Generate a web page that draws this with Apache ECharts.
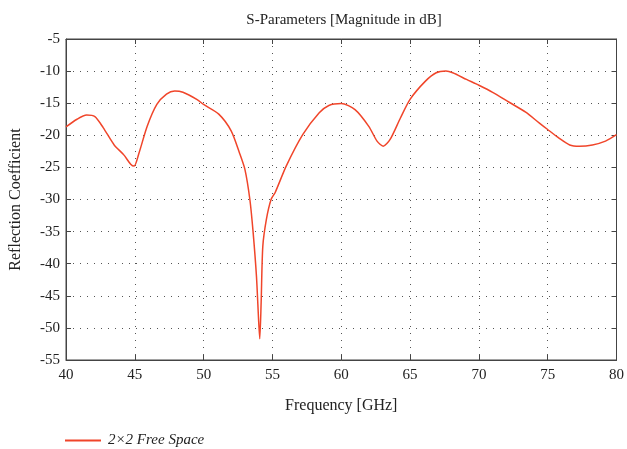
<!DOCTYPE html>
<html>
<head>
<meta charset="utf-8">
<script src="https://cdn.jsdelivr.net/npm/echarts@6/dist/echarts.min.js"></script>
<style>html,body{margin:0;padding:0;background:#fff;}#c{width:627px;height:449px;}</style>
</head>
<body>
<div id="c"></div>
<script>
var freq = [40.0,40.8,41.5,42.1,42.7,43.5,44.2,44.7,44.95,45.3,45.9,46.6,47.3,47.9,48.5,49.5,50.0,51.1,52.0,52.6,53.0,53.36,53.6,53.84,54.0,54.08,54.18,54.3,54.56,54.9,55.2,56.0,57.2,58.4,59.1,60.0,61.0,62.0,62.6,63.05,63.55,64.3,65.0,66.1,66.9,67.6,68.1,69.1,70.0,71.0,72.2,73.4,74.4,75.0,75.8,76.6,77.3,78.25,79.2,80.0];
var s11 = [-18.7,-17.5,-16.85,-17.1,-18.8,-21.5,-23.05,-24.5,-24.8,-22.8,-18.6,-15.2,-13.6,-13.1,-13.3,-14.4,-15.2,-16.7,-19.3,-22.7,-25.3,-30,-35.2,-42,-49,-51.7,-46,-37.3,-33.1,-30,-28.9,-24.8,-19.9,-16.5,-15.35,-15.05,-16,-18.6,-20.9,-21.7,-20.65,-17.3,-14.4,-11.6,-10.26,-10.0,-10.26,-11.3,-12.2,-13.3,-14.85,-16.4,-18.1,-19.1,-20.4,-21.5,-21.7,-21.5,-20.9,-19.9];
var seriesName = '2×2 Free Space';
var titleText = 'S-Parameters [Magnitude in dB]';
var xName = 'Frequency [GHz]';
var yName = 'Reflection Coefficient';

var font = '"Liberation Serif", "DejaVu Serif", serif';
var axisColor = '#444';
var lineColor = '#f0452a';
var gridLine = {show: true, lineStyle: {color: '#555', type: [1, 6], width: 1}};

var chart = echarts.init(document.getElementById('c'));
chart.setOption({
  animation: false,
  backgroundColor: '#fff',
  title: {text: titleText, left: 339, top: 8, textAlign: 'center',
    textStyle: {fontFamily: font, fontSize: 15, fontWeight: 'normal', color: '#222'}},
  grid: {left: 61, right: 9, top: 39, bottom: 89, show: true, borderColor: axisColor, borderWidth: 1},
  legend: {left: 60, top: 428, itemWidth: 36, itemHeight: 2, itemGap: 8,
    icon: 'rect',
    itemStyle: {color: lineColor},
    textStyle: {fontFamily: font, fontSize: 15, fontStyle: 'italic', color: '#222', padding: [0, 0, 0, 2]},
    data: [{name: seriesName, icon: 'rect'}]},
  xAxis: [{
    type: 'value', min: 40, max: 80, interval: 5,
    name: xName, nameLocation: 'middle', nameGap: 38,
    nameTextStyle: {fontFamily: font, fontSize: 16, color: '#222'},
    axisLine: {show: true, lineStyle: {color: axisColor, width: 1}},
    axisTick: {show: true, inside: true, length: 5, lineStyle: {color: axisColor}},
    axisLabel: {fontFamily: font, fontSize: 15, color: '#222', margin: 8},
    splitLine: gridLine
  }, {
    type: 'value', min: 40, max: 80, interval: 5, position: 'top',
    axisLine: {show: true, lineStyle: {color: axisColor, width: 1}},
    axisTick: {show: true, inside: true, length: 5, lineStyle: {color: axisColor}},
    axisLabel: {show: false}, splitLine: {show: false}
  }],
  yAxis: [{
    type: 'value', min: -55, max: -5, interval: 5,
    name: yName, nameLocation: 'middle', nameGap: 42,
    nameTextStyle: {fontFamily: font, fontSize: 16, color: '#222'},
    axisLine: {show: true, lineStyle: {color: axisColor, width: 1}},
    axisTick: {show: true, inside: true, length: 5, lineStyle: {color: axisColor}},
    axisLabel: {fontFamily: font, fontSize: 15, color: '#222', margin: 6},
    splitLine: gridLine
  }, {
    type: 'value', min: -55, max: -5, interval: 5, position: 'right',
    axisLine: {show: true, lineStyle: {color: axisColor, width: 1}},
    axisTick: {show: true, inside: true, length: 5, lineStyle: {color: axisColor}},
    axisLabel: {show: false}, splitLine: {show: false}
  }],
  series: [{
    name: seriesName, type: 'line', symbol: 'none', smooth: 0.25,
    lineStyle: {color: lineColor, width: 1.5}, itemStyle: {color: lineColor},
    data: freq.map(function (f, i) { return [f, s11[i]]; })
  }]
});
</script>
</body>
</html>
